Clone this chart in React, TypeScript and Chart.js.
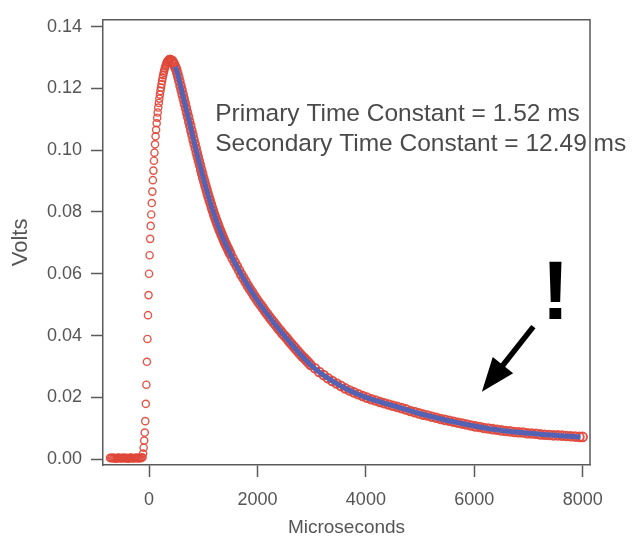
import React, { useEffect, useRef } from "react";
import { Chart, registerables } from "chart.js";

Chart.register(...registerables);

// ---- data ----
const baselineTimes = [-720, -700, -680, -660, -640, -620, -600, -580, -560, -540, -520, -500, -480, -460, -440, -420, -400, -380, -360, -340, -320, -300, -280, -260, -240, -220, -200, -180, -160, -140, -120];
const baselineVolts = [0.0004, 0.0003, 0.0005, 0.0002, 0.0004, 0.0003, 0.0001, 0.0004, 0.0005, 0.0003, 0.0002, 0.0004, 0.0003, 0.0005, 0.0002, 0.0003, 0.0004, 0.0001, 0.0003, 0.0005, 0.0004, 0.0002, 0.0003, 0.0004, 0.0003, 0.0005, 0.0002, 0.0004, 0.0003, 0.0004, 0.0006];

const riseTimes = [-110, -100, -90, -80, -70, -60, -50, -40, -30, -20, -10, 0, 10, 20, 30, 40, 50, 60, 70, 80, 90, 100, 110, 120, 130, 140, 150, 160, 170, 180, 190, 200, 210, 220, 230, 240, 250, 260, 270, 280, 290, 300, 310, 320, 330, 340, 350, 360, 370, 380, 390, 400];
const riseVolts = [0.0018, 0.0037, 0.0060, 0.0086, 0.0123, 0.0179, 0.0241, 0.0315, 0.0389, 0.0466, 0.0531, 0.0600, 0.0660, 0.0713, 0.0755, 0.0792, 0.0829, 0.0866, 0.0903, 0.0934, 0.0966, 0.0992, 0.1019, 0.1045, 0.1066, 0.1087, 0.1105, 0.1122, 0.1138, 0.1153, 0.1167, 0.1180, 0.1192, 0.1203, 0.1214, 0.1224, 0.1234, 0.1243, 0.1251, 0.1258, 0.1265, 0.1271, 0.1276, 0.1281, 0.1285, 0.1288, 0.1291, 0.1293, 0.1294, 0.1295, 0.1295, 0.1294];

const decayTimes = [
  420, 440, 460, 480, 500, 520, 540, 560, 580, 600, 620, 640, 660, 680, 700, 720, 740, 760, 780, 800,
  820, 840, 860, 880, 900, 920, 940, 960, 980, 1000, 1020, 1040, 1060, 1080, 1100, 1120, 1140, 1160, 1180, 1200,
  1220, 1240, 1260, 1280, 1300, 1320, 1340, 1360, 1380, 1400, 1420, 1440, 1460, 1480, 1500,
  1540, 1580, 1620, 1660, 1700, 1740, 1780, 1820, 1860, 1900, 1940, 1980, 2020, 2060, 2100, 2140, 2180, 2220,
  2260, 2300, 2340, 2380, 2420, 2460, 2500, 2540, 2580, 2620, 2660, 2700, 2740, 2780, 2820, 2860, 2900, 2940, 2980,
  3060, 3140, 3220, 3300, 3380, 3460, 3540, 3620, 3700, 3780, 3860, 3940, 4020, 4100, 4180, 4260, 4340, 4420, 4500,
  4580, 4660, 4740, 4820, 4900, 4980, 5060, 5140, 5220, 5300, 5380, 5460, 5540, 5620, 5700, 5780, 5860, 5940, 6020,
  6100, 6180, 6260, 6340, 6420, 6500, 6580, 6660, 6740, 6820, 6900, 6980, 7060, 7140, 7220, 7300, 7380, 7460, 7540,
  7620, 7700, 7780, 7860, 7940, 8000,
];
const decayVolts = [
  0.1290, 0.1285, 0.1278, 0.1270, 0.1262, 0.1250, 0.1237, 0.1223, 0.1209, 0.1195, 0.1180, 0.1166, 0.1151, 0.1137, 0.1122, 0.1108, 0.1093, 0.1079, 0.1064, 0.1050,
  0.1035, 0.1021, 0.1006, 0.0992, 0.0978, 0.0964, 0.0951, 0.0937, 0.0924, 0.0910, 0.0898, 0.0885, 0.0873, 0.0860, 0.0848, 0.0837, 0.0826, 0.0814, 0.0803, 0.0792,
  0.0782, 0.0772, 0.0763, 0.0753, 0.0743, 0.0735, 0.0726, 0.0718, 0.0709, 0.0701, 0.0694, 0.0686, 0.0679, 0.0671, 0.0664,
  0.0650, 0.0637, 0.0624, 0.0611, 0.0598, 0.0586, 0.0574, 0.0562, 0.0551, 0.0540, 0.0529, 0.0518, 0.0508, 0.0499, 0.0489, 0.0479, 0.0470, 0.0460,
  0.0451, 0.0442, 0.0433, 0.0424, 0.0416, 0.0407, 0.0399, 0.0391, 0.0382, 0.0374, 0.0366, 0.0358, 0.0350, 0.0342, 0.0334, 0.0327, 0.0320, 0.0313, 0.0305,
  0.0294, 0.0282, 0.0272, 0.0262, 0.0253, 0.0245, 0.0237, 0.0229, 0.0222, 0.0216, 0.0210, 0.0204, 0.0199, 0.0194, 0.0190, 0.0185, 0.0181, 0.0177, 0.0173,
  0.0169, 0.0165, 0.0161, 0.0156, 0.0152, 0.0148, 0.0144, 0.0141, 0.0137, 0.0134, 0.0130, 0.0127, 0.0124, 0.0121, 0.0118, 0.0115, 0.0112, 0.0109, 0.0106,
  0.0104, 0.0101, 0.0099, 0.0097, 0.0095, 0.0093, 0.0091, 0.0090, 0.0088, 0.0087, 0.0086, 0.0084, 0.0083, 0.0082, 0.0080, 0.0079, 0.0078, 0.0077, 0.0077,
  0.0076, 0.0075, 0.0074, 0.0073, 0.0072, 0.0072,
];

const fitTimes = [480, 500, 600, 700, 800, 900, 1000, 1100, 1200, 1300, 1400, 1500, 1600, 1700, 1800, 1900, 2000, 2200, 2400, 2600, 2800, 3000, 3200, 3400, 3600, 3800, 4000, 4250, 4500, 4750, 5000, 5250, 5500, 5750, 6000, 6250, 6500, 6750, 7000, 7250, 7500, 7750, 7960];
const fitVolts = [0.1270, 0.1262, 0.1195, 0.1122, 0.1050, 0.0978, 0.0910, 0.0848, 0.0792, 0.0743, 0.0701, 0.0664, 0.0630, 0.0598, 0.0568, 0.0540, 0.0513, 0.0465, 0.0420, 0.0378, 0.0338, 0.0302, 0.0274, 0.0251, 0.0231, 0.0214, 0.0200, 0.0186, 0.0173, 0.0160, 0.0147, 0.0136, 0.0125, 0.0116, 0.0107, 0.0099, 0.0093, 0.0088, 0.0084, 0.0080, 0.0077, 0.0074, 0.0072];

const xTicks = [0, 2000, 4000, 6000, 8000];
const yTicks = [0.0, 0.02, 0.04, 0.06, 0.08, 0.1, 0.12, 0.14];

const annotationLines = ["Primary Time Constant = 1.52 ms", "Secondary Time Constant = 12.49 ms"];

const FONT = "'Liberation Sans', Arial, sans-serif";
const AXIS_GRAY = "#5a5a5a";
const TEXT_GRAY = "#555555";
const RED = "rgba(224,70,56,0.92)";

function zip(xs: number[], ys: number[]) {
  return xs.map((x, i) => ({ x, y: ys[i] }));
}

const overlayPlugin = {
  id: "overlay",
  afterDatasetsDraw(chart: any) {
    const ctx = chart.ctx as CanvasRenderingContext2D;
    const xs = chart.scales.x;
    const ys = chart.scales.y;
    ctx.save();
    // annotation text
    ctx.fillStyle = "#4a4a4a";
    ctx.font = `24.5px ${FONT}`;
    ctx.textAlign = "left";
    ctx.textBaseline = "alphabetic";
    const tx = xs.getPixelForValue(1220);
    const ty0 = ys.getPixelForValue(0.1095);
    annotationLines.forEach((line, i) => ctx.fillText(line, tx, ty0 + i * 30));

    // exclamation mark
    ctx.fillStyle = "#000";
    ctx.font = `bold 84px ${FONT}`;
    ctx.textAlign = "center";
    ctx.fillText("!", xs.getPixelForValue(7500), ys.getPixelForValue(0.0454));

    // arrow
    const sx = xs.getPixelForValue(7090), sy = ys.getPixelForValue(0.0429);
    const ex = xs.getPixelForValue(6140), ey = ys.getPixelForValue(0.0218);
    const ang = Math.atan2(ey - sy, ex - sx);
    const headLen = 34, headHalf = 13;
    const bx = ex - headLen * Math.cos(ang), by = ey - headLen * Math.sin(ang);
    ctx.strokeStyle = "#000";
    ctx.lineWidth = 5.5;
    ctx.beginPath();
    ctx.moveTo(sx, sy);
    ctx.lineTo(bx + 2 * Math.cos(ang), by + 2 * Math.sin(ang));
    ctx.stroke();
    ctx.beginPath();
    ctx.moveTo(ex, ey);
    ctx.lineTo(bx - headHalf * Math.sin(ang), by + headHalf * Math.cos(ang));
    ctx.lineTo(bx + headHalf * Math.sin(ang), by - headHalf * Math.cos(ang));
    ctx.closePath();
    ctx.fill();
    ctx.restore();
  },
  afterDraw(chart: any) {
    const { ctx, chartArea } = chart;
    ctx.save();
    ctx.strokeStyle = AXIS_GRAY;
    ctx.lineWidth = 1.5;
    ctx.beginPath();
    ctx.moveTo(chartArea.left, chartArea.top);
    ctx.lineTo(chartArea.right, chartArea.top);
    ctx.lineTo(chartArea.right, chartArea.bottom);
    ctx.stroke();
    ctx.restore();
  },
};

export default function App() {
  const ref = useRef<HTMLCanvasElement | null>(null);
  useEffect(() => {
    if (!ref.current) return;
    const early = [...zip(baselineTimes, baselineVolts), ...zip(riseTimes, riseVolts)];
    const chart = new Chart(ref.current, {
      type: "scatter",
      data: {
        datasets: [
          {
            label: "Fit",
            data: zip(fitTimes, fitVolts),
            showLine: true,
            borderColor: "#5362b2",
            borderWidth: 5,
            pointRadius: 0,
            cubicInterpolationMode: "monotone",
            order: 0,
          },
          {
            label: "Data (decay)",
            data: zip(decayTimes, decayVolts),
            showLine: false,
            pointStyle: "circle",
            pointRadius: 4.3,
            pointBorderWidth: 2,
            borderColor: RED,
            backgroundColor: "rgba(0,0,0,0)",
            pointBackgroundColor: "rgba(0,0,0,0)",
            order: 1,
          },
          {
            label: "Data",
            data: early,
            showLine: false,
            pointStyle: "circle",
            pointRadius: 3.6,
            pointBorderWidth: 1.4,
            borderColor: RED,
            backgroundColor: "rgba(0,0,0,0)",
            pointBackgroundColor: "rgba(0,0,0,0)",
            order: 2,
          },
        ],
      } as any,
      options: {
        responsive: false,
        animation: false,
        layout: { padding: { left: 0, top: 9, right: 42, bottom: 0 } },
        plugins: { legend: { display: false }, tooltip: { enabled: false } },
        scales: {
          x: {
            type: "linear",
            min: -850,
            max: 8135,
            afterFit: (s: any) => { s.height = 74; },
            afterBuildTicks: (s: any) => { s.ticks = xTicks.map((v) => ({ value: v })); },
            grid: { drawOnChartArea: false, drawTicks: true, tickLength: 12, tickColor: AXIS_GRAY, tickWidth: 1.5 },
            border: { display: true, color: AXIS_GRAY, width: 1.5 },
            ticks: { color: TEXT_GRAY, font: { family: FONT, size: 18 }, padding: 12, maxRotation: 0, callback: (v: any) => String(v) },
            title: { display: true, text: "Microseconds", color: TEXT_GRAY, font: { family: FONT, size: 19 }, padding: { top: 0, bottom: 0 } },
          },
          y: {
            type: "linear",
            min: -0.0019,
            max: 0.14221,
            afterFit: (s: any) => { s.width = 103; },
            afterBuildTicks: (s: any) => { s.ticks = yTicks.map((v) => ({ value: v })); },
            grid: { drawOnChartArea: false, drawTicks: true, tickLength: 12, tickColor: AXIS_GRAY, tickWidth: 1.5 },
            border: { display: true, color: AXIS_GRAY, width: 1.5 },
            ticks: { color: TEXT_GRAY, font: { family: FONT, size: 18 }, padding: 9, callback: (v: any) => Number(v).toFixed(2) },
            title: { display: true, text: "Volts", color: TEXT_GRAY, font: { family: FONT, size: 22 }, padding: { top: 8, bottom: 0 } },
          },
        },
      } as any,
      plugins: [overlayPlugin],
    });
    return () => chart.destroy();
  }, []);
  return (
    <div style={{ position: "fixed", left: 0, top: 0, width: 632, height: 539, background: "#fff" }}>
      <canvas ref={ref} width={632} height={539} style={{ display: "block" }} />
    </div>
  );
}
